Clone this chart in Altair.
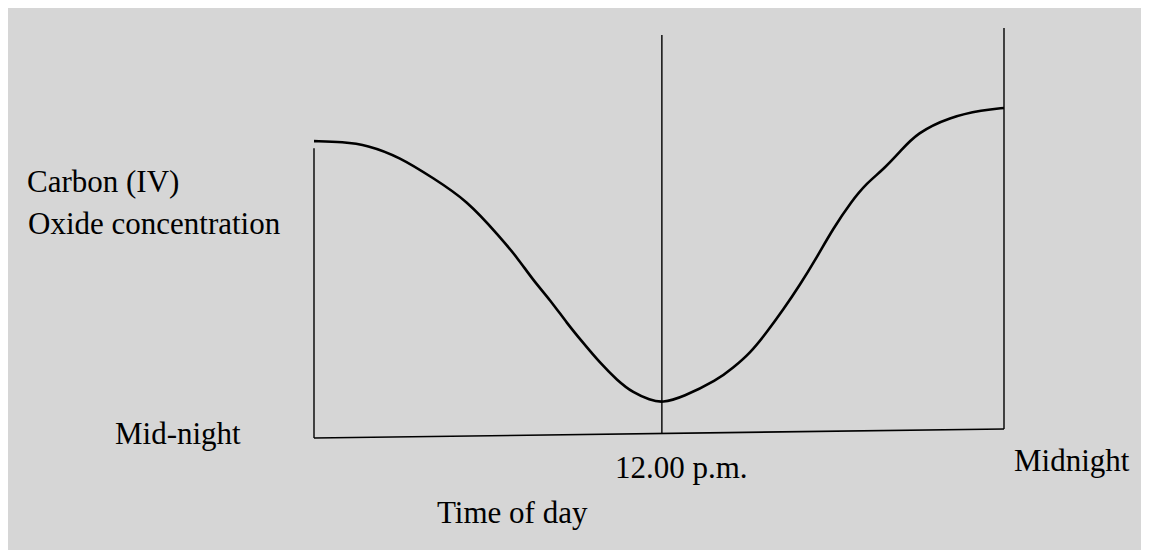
import altair as alt
import pandas as pd

# Curve: time of day (hours) vs CO2 concentration (arbitrary units)
hours = [0.00, 1.01, 1.84, 2.99, 4.14, 5.32, 6.47, 7.06, 7.62, 8.21, 8.80, 9.36,
         9.95, 10.54, 11.10, 11.69, 12.10, 12.83, 14.02, 14.57, 15.17, 15.76,
         16.31, 16.90, 17.50, 18.05, 18.68, 19.23, 19.79, 20.38, 20.97, 22.12,
         23.27, 24.00]
conc = [72.4, 72.2, 71.5, 68.5, 63.4, 58.0, 49.0, 44.1, 38.5, 33.7, 28.0, 23.2,
        18.3, 14.1, 11.0, 9.3, 8.5, 10.0, 14.1, 17.1, 20.7, 25.9, 31.2, 37.3,
        44.2, 51.0, 57.6, 62.2, 65.4, 69.8, 74.4, 78.3, 80.0, 80.5]

# Vertical guide lines (hand-drawn axes): x position, bottom and top
vline_x = [0.0, 12.1, 24.0]
vline_lo = [0.0, 1.0, 2.2]
vline_hi = [70.7, 98.3, 100.0]

# Bottom (slightly sloped) baseline
base_x = [0.0]
base_y = [0.0]
base_x2 = [24.0]
base_y2 = [2.2]

# Texts
y_label_lines = ["Carbon (IV)", "Oxide concentration"]
left_label = "Mid-night"
mid_label = "12.00 p.m."
right_label = "Midnight"
x_title = "Time of day"

BG = "#d6d6d6"
FONT = "Liberation Serif, Times New Roman, serif"
FS = 31

xs = alt.Scale(domain=[0, 24], nice=False, zero=False)
ys = alt.Scale(domain=[0, 100], nice=False, zero=False)

curve_df = pd.DataFrame({"h": hours, "c": conc})
vdf = pd.DataFrame({"x": vline_x, "lo": vline_lo, "hi": vline_hi})
bdf = pd.DataFrame({"x": base_x, "y": base_y, "x2": base_x2, "y2": base_y2})

curve = alt.Chart(curve_df).mark_line(
    color="black", strokeWidth=2.6, interpolate="basis", clip=False
).encode(
    x=alt.X("h:Q", scale=xs, axis=None),
    y=alt.Y("c:Q", scale=ys, axis=None),
)

vlines = alt.Chart(vdf).mark_rule(color="black", strokeWidth=1.4).encode(
    x=alt.X("x:Q", scale=xs, axis=None),
    y=alt.Y("lo:Q", scale=ys, axis=None),
    y2="hi:Q",
)

baseline = alt.Chart(bdf).mark_rule(color="black", strokeWidth=1.6).encode(
    x=alt.X("x:Q", scale=xs, axis=None),
    y=alt.Y("y:Q", scale=ys, axis=None),
    x2="x2:Q",
    y2="y2:Q",
)


def label(text, px, py):
    return alt.Chart(pd.DataFrame({"t": [text]})).mark_text(
        font=FONT, fontSize=FS, color="black", align="left", baseline="alphabetic"
    ).encode(text="t:N", x=alt.value(px), y=alt.value(py))


texts = [
    label(y_label_lines[0], -287, 164),
    label(y_label_lines[1], -286, 206),
    label(left_label, -199, 416),
    label(mid_label, 301, 450),
    label(right_label, 700, 443),
    label(x_title, 123, 495),
]

chart = alt.layer(vlines, baseline, curve, *texts).properties(
    width=690,
    height=410,
    autosize=alt.AutoSizeParams(type="none"),
    padding={"left": 306, "top": 20, "right": 137, "bottom": 112},
    background=BG,
).configure_view(stroke=None)

chart.save("out.html", embed_options={"renderer": "svg", "actions": False})
